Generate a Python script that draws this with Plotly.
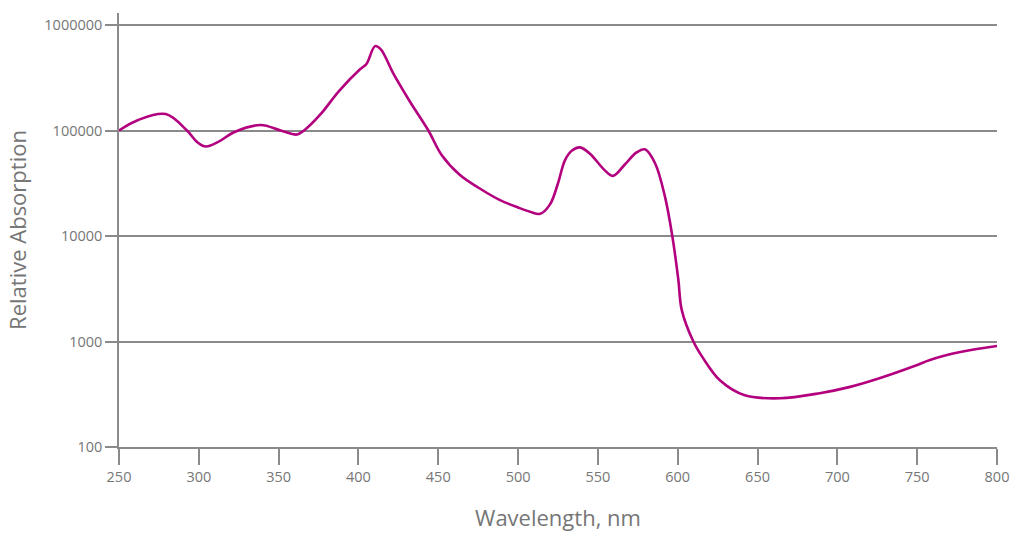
import plotly.graph_objects as go

wavelength = [250, 262, 279.3, 292.6, 299, 304.5, 313, 322, 338.8, 351.3, 361.5, 365.9, 376, 387.8, 401, 405,
              410.4, 414, 421.8, 432.3, 443.8, 452.1, 463.6, 475, 488.7, 500, 507.5, 513.8, 520, 525, 529.4,
              533.8, 538.8, 545, 554.5, 559.5, 567, 574, 579.5, 585.8, 592, 596.6, 600.4, 602.5, 609.8, 616,
              626.6, 642, 664, 689, 708, 726.8, 748.7, 758, 777, 800]
log_abs = [5.0, 5.10, 5.156, 5.0, 4.89, 4.848, 4.90, 4.984, 5.052, 5.0, 4.962, 5.0, 5.15, 5.374, 5.58, 5.63,
           5.80, 5.77, 5.542, 5.273, 5.0, 4.768, 4.578, 4.46, 4.34, 4.27, 4.23, 4.21, 4.30, 4.50, 4.72,
           4.81, 4.84, 4.78, 4.62, 4.57, 4.68, 4.79, 4.822, 4.69, 4.373, 4.0, 3.583, 3.30, 3.0, 2.84,
           2.63, 2.49, 2.462, 2.51, 2.57, 2.654, 2.77, 2.825, 2.90, 2.957]
absorption = [10 ** v for v in log_abs]

x_ticks = [250, 300, 350, 400, 450, 500, 550, 600, 650, 700, 750, 800]
y_ticks = [100, 1000, 10000, 100000, 1000000]
y_labels = ["100", "1000", "10000", "100000", "1000000"]

gray = "#8a8a8a"
txt = "#767676"
fig = go.Figure()
fig.add_trace(go.Scatter(x=wavelength, y=absorption, mode="lines",
                         line=dict(color="#b3007f", width=2.6, shape="spline", smoothing=1.0),
                         hoverinfo="skip"))
fig.update_layout(
    width=1013, height=534,
    margin=dict(l=119, r=16, t=13, b=87),
    paper_bgcolor="white", plot_bgcolor="white",
    showlegend=False,
    font=dict(family="Open Sans, sans-serif", color=txt),
)
fig.update_xaxes(range=[250, 800], tickvals=x_ticks, ticks="outside", ticklen=16, tickcolor=gray, tickwidth=1.5,
                 showgrid=False, zeroline=False, showline=True, linecolor=gray, linewidth=1.5,
                 tickfont=dict(size=14.5, color=txt), automargin=False,
                 title=dict(text="Wavelength, nm", font=dict(size=22, color=txt), standoff=25))
fig.update_yaxes(type="log", range=[2, 6.114], tickvals=y_ticks, ticktext=y_labels, ticks="outside",
                 ticklen=12, tickcolor=gray, tickwidth=1.5,
                 showgrid=True, gridcolor=gray, gridwidth=1.5, zeroline=False,
                 showline=True, linecolor=gray, linewidth=1.5,
                 tickfont=dict(size=14.5, color=txt), automargin=False,
                 title=dict(text="Relative Absorption", font=dict(size=22, color=txt), standoff=12))
fig.write_html("out.html", config={"displayModeBar": False},
               post_script="document.body.style.margin='0';document.body.style.overflow='hidden';")
